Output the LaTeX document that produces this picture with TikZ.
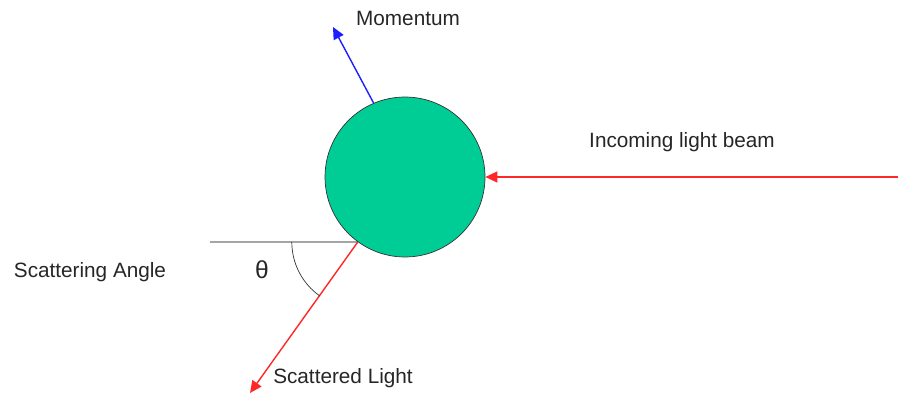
\documentclass[tikz,border=0pt]{standalone}
\usepackage{fontspec}
\setmainfont{Liberation Sans}
\usetikzlibrary{arrows.meta}
\definecolor{teal}{RGB}{0,204,150}
\definecolor{beamred}{RGB}{255,40,40}
\definecolor{pushblue}{RGB}{30,30,255}
\tikzset{
  >={Triangle[length=2.4mm,width=2.2mm]},
  ball/.style={circle,draw=black!80,fill=teal,thin,minimum size=3.2cm,inner sep=0pt},
  ray/.style={->,thick,draw=#1},
  ray/.default=beamred,
  tag/.style={font=\fontsize{11.8}{14}\selectfont,text=black!85,inner sep=1pt},
}
\begin{document}
\begin{tikzpicture}[x=0.02cm,y=0.02cm]
  \useasboundingbox (0,0) rectangle (898,396);
  \node[ball] (ball) at (405,219) {};
  % incoming beam and momentum
  \coordinate (src) at (898,219);
  \coordinate (mom) at (333,369);
  \draw[ray] (src) -- (ball.east);
  \draw[ray=pushblue] (ball.113) -- (mom);
  % scattering
  \coordinate (hit) at (ball.234);
  \coordinate (base) at (210,154);
  \coordinate (out) at (250,3);
  \draw[black,thin] (base) -- (hit);
  \draw[ray] (hit) -- (out);
  \draw[black!80,thin] (hit) ++(180:1.32cm) arc (180:235:1.32cm);
  % labels
  \node[tag] (lmom) at (408,378) {Momentum};
  \node[tag] (lin) at (682,254) {Incoming light beam};
  \node[tag] (lang) at (90,124) {Scattering Angle};
  \node[tag,font=\fontsize{14}{16}\selectfont] (ltheta) at (262,126) {θ};
  \node[tag] (lout) at (343,18) {Scattered Light};
\end{tikzpicture}
\end{document}
